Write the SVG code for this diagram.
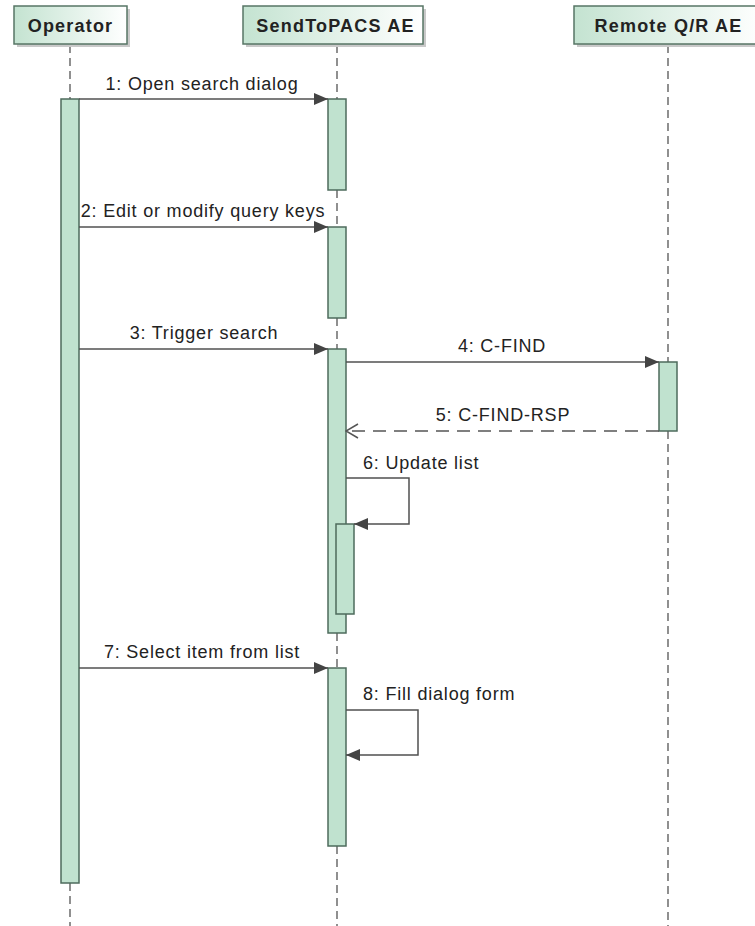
<svg xmlns="http://www.w3.org/2000/svg" width="755" height="926" viewBox="0 0 755 926">
<defs>
<linearGradient id="hg" x1="0" y1="0" x2="1" y2="0">
<stop offset="0" stop-color="#c4e3d1"/>
<stop offset="1" stop-color="#ffffff"/>
</linearGradient>
<marker id="fa" viewBox="0 0 14 12" refX="14" refY="6" markerWidth="14" markerHeight="12" markerUnits="userSpaceOnUse" orient="auto">
<path d="M0,0 L14,6 L0,12 Z" fill="#444"/>
</marker>
<marker id="oa" viewBox="0 0 14 16" refX="13" refY="8" markerWidth="14" markerHeight="16" markerUnits="userSpaceOnUse" orient="auto">
<path d="M1,1 L13,8 L1,15" fill="none" stroke="#555" stroke-width="1.5"/>
</marker>
</defs>
<style>
.hdr{fill:url(#hg);stroke:#577565;stroke-width:1.5}
.shd{fill:#c9c9c9}
.ht{font-family:"Liberation Sans",Arial,sans-serif;font-weight:bold;font-size:18px;letter-spacing:1.2px;fill:#222;text-anchor:middle}
.life{stroke:#555;stroke-width:1.3;stroke-dasharray:8 5;fill:none}
.bar{fill:#c0e2cf;stroke:#4d6b5c;stroke-width:1.5}
.msg{stroke:#505050;stroke-width:1.5;fill:none}
.ret{stroke:#555;stroke-width:1.5;fill:none;stroke-dasharray:13 8}
.lt{font-family:"Liberation Sans",Arial,sans-serif;font-size:18px;letter-spacing:0.8px;fill:#222}
.mid{text-anchor:middle}
</style>
<rect width="755" height="926" fill="#fff"/>

<g id="lifelines">
<path class="life" d="M70,45 V99 M70,883 V926"/>
<path class="life" d="M337,45 V99 M337,190 V227 M337,318 V349 M337,633 V668 M337,846 V926"/>
<path class="life" d="M668,45 V362 M668,431 V926"/>
</g>

<g id="operator">
<rect class="shd" x="17" y="9" width="113" height="38"/>
<rect class="hdr" x="14" y="6" width="113" height="38"/>
<text class="ht" x="70.5" y="32">Operator</text>
<rect class="bar" x="61" y="99" width="18" height="784"/>
</g>

<g id="sendtopacs">
<rect class="shd" x="246" y="9" width="180" height="38"/>
<rect class="hdr" x="243" y="6" width="180" height="38"/>
<text class="ht" x="335.5" y="32">SendToPACS AE</text>
<rect class="bar" x="328" y="99" width="18" height="91"/>
<rect class="bar" x="328" y="227" width="18" height="91"/>
<rect class="bar" x="328" y="349" width="18" height="284"/>
<rect class="bar" x="336" y="524" width="18" height="90"/>
<rect class="bar" x="328" y="668" width="18" height="178"/>
</g>

<g id="remote">
<rect class="shd" x="577" y="9" width="190" height="38"/>
<rect class="hdr" x="574" y="6" width="190" height="38"/>
<text class="ht" x="668.5" y="32">Remote Q/R AE</text>
<rect class="bar" x="659" y="362" width="18" height="69"/>
</g>

<g id="connectors">
<line class="msg" x1="79" y1="99" x2="328" y2="99" marker-end="url(#fa)"/>
<text class="lt mid" x="202" y="90">1: Open search dialog</text>
<line class="msg" x1="79" y1="227" x2="328" y2="227" marker-end="url(#fa)"/>
<text class="lt mid" x="203" y="217">2: Edit or modify query keys</text>
<line class="msg" x1="79" y1="349" x2="328" y2="349" marker-end="url(#fa)"/>
<text class="lt mid" x="204" y="339">3: Trigger search</text>
<line class="msg" x1="346" y1="362" x2="659" y2="362" marker-end="url(#fa)"/>
<text class="lt mid" x="502" y="352">4: C-FIND</text>
<line class="ret" x1="659" y1="431" x2="346" y2="431" marker-end="url(#oa)"/>
<text class="lt mid" x="503" y="421">5: C-FIND-RSP</text>
<polyline class="msg" points="346,478 409,478 409,524 354,524" marker-end="url(#fa)"/>
<text class="lt" x="363" y="469">6: Update list</text>
<line class="msg" x1="79" y1="668" x2="328" y2="668" marker-end="url(#fa)"/>
<text class="lt mid" x="202" y="658">7: Select item from list</text>
<polyline class="msg" points="346,710 418,710 418,755 346,755" marker-end="url(#fa)"/>
<text class="lt" x="363" y="700">8: Fill dialog form</text>
</g>
</svg>
